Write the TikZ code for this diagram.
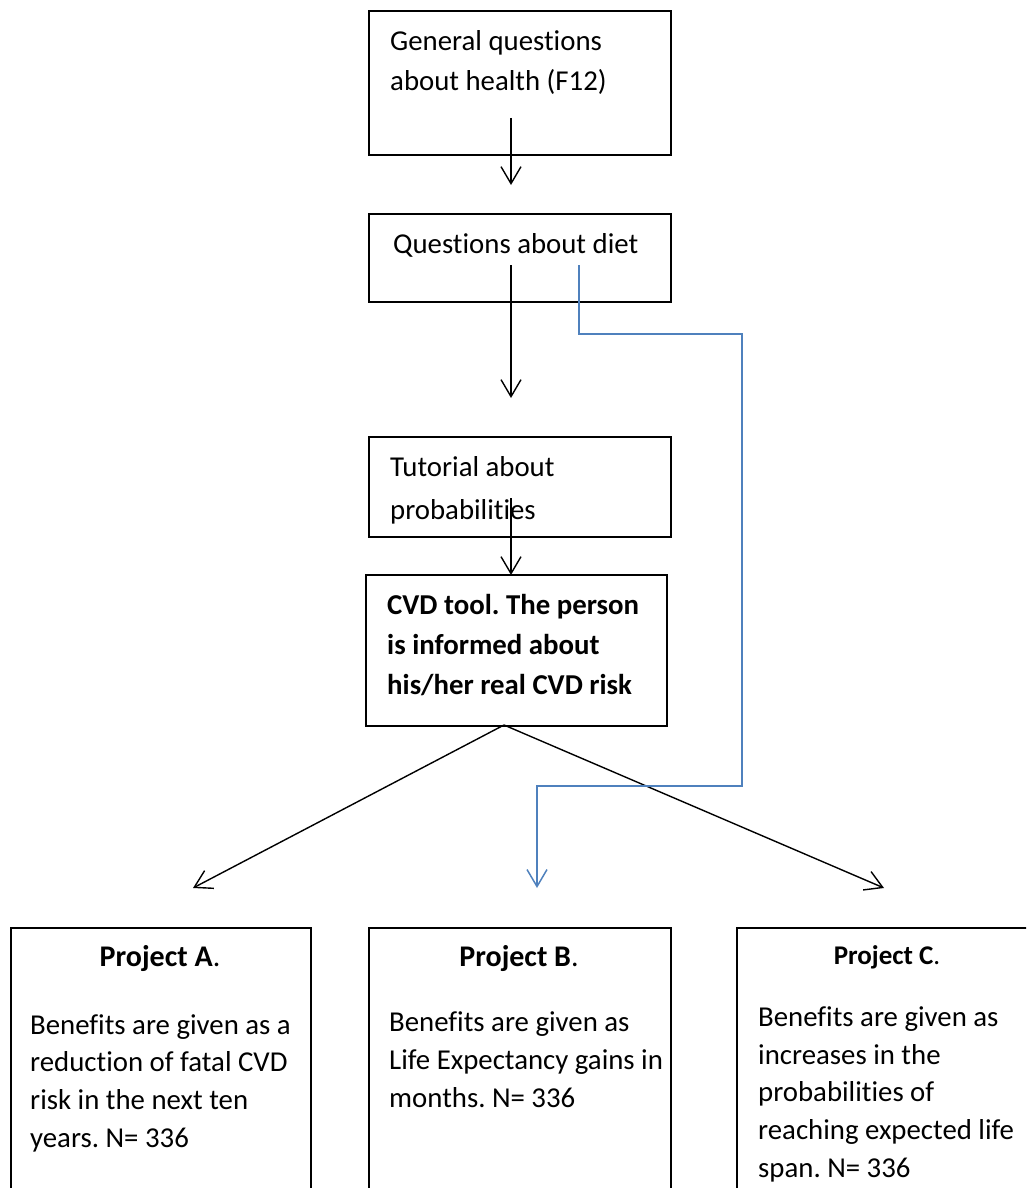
\documentclass[tikz,border=0pt]{standalone}
\usepackage{fontspec}
\setmainfont{Carlito}[Ligatures=NoCommon]
\usetikzlibrary{arrows.meta}
\definecolor{lineBlue}{RGB}{79,129,189}
\frenchspacing

\begin{document}
\begin{tikzpicture}[x=1pt,y=-1pt,%%
  boxStyle/.style={draw,line width=1.6pt,inner sep=0pt,anchor=north west},%%
  bodyStyle/.style={inner sep=0pt,anchor=base west,align=left,font=\fontsize{28.8}{40.5}\selectfont},%%
  boldStyle/.style={bodyStyle,font=\fontsize{28.8}{40}\selectfont\bfseries},%%
  lowerStyle/.style={bodyStyle,font=\fontsize{28.8}{37.6}\selectfont},%%
  titleStyle/.style={inner sep=0pt,anchor=base,font=\fontsize{30}{34}\selectfont},%%
  arrowStyle/.style={-{Straight Barb[length=17pt,width=20pt]},line width=1.4pt},%%
  blueStyle/.style={arrowStyle,draw=lineBlue,line width=1.5pt}%%
]
%%
\path[use as bounding box] (0,0) rectangle (1026,1188);
\clip (0,0) rectangle (1026,1188);
%%
%% Upper column of boxes (multi-line texts sit on their last baseline).
\node[boxStyle,minimum width=302pt,minimum height=144pt] (general) at (368,10) {};
\node[bodyStyle] (generalText) at (390,91) {General questions\\about health (F12)};
\node[boxStyle,minimum width=302pt,minimum height=88pt] (diet) at (368,213) {};
\node[bodyStyle] (dietText) at (393,253) {Questions about diet};
\node[boxStyle,minimum width=302pt,minimum height=100pt] (tutorial) at (368,436) {};
\node[bodyStyle,font=\fontsize{28.8}{43}\selectfont] (tutorialText) at (390,519) {Tutorial about\\probabilities};
\node[boxStyle,minimum width=301pt,minimum height=151pt] (cvd) at (365,574) {};
\node[boldStyle] (cvdText) at (387,694) {CVD tool. The person\\is informed about\\his/her real CVD risk};
%%
%% The three projects.
\node[boxStyle,minimum width=300pt,minimum height=320pt] (projA) at (10,927) {};
\node[boxStyle,minimum width=302pt,minimum height=320pt] (projB) at (368,927) {};
\node[boxStyle,minimum width=302pt,minimum height=320pt] (projC) at (736,927) {};
\node[titleStyle] (projATitle) at (160,966) {\textbf{Project A}.};
\node[titleStyle] (projBTitle) at (519,966) {\textbf{Project B}.};
\node[titleStyle,font=\fontsize{27}{30}\selectfont] (projCTitle) at (887,964) {\textbf{Project C}.};
\node[lowerStyle] (projAText) at (30,1147) {Benefits are given as a\\reduction of fatal CVD\\risk in the next ten\\years. N= 336};
\node[lowerStyle] (projBText) at (389,1107) {Benefits are given as\\Life Expectancy gains in\\months. N= 336};
\node[lowerStyle] (projCText) at (758,1177) {Benefits are given as\\increases in the\\probabilities of\\reaching expected life\\span. N= 336};
%%
%% Arrow ends.
\coordinate (generalOut) at (511,118);
\coordinate (dietIn) at (511,185);
\coordinate (dietOut) at (511,265);
\coordinate (tutorialIn) at (511,398);
\coordinate (tutorialOut) at (511,498);
\coordinate (cvdIn) at (511,575);
\coordinate (cvdApex) at (504,725);
\coordinate (projAIn) at (193,888);
\coordinate (projCIn) at (884,888);
\coordinate (blueStart) at (579,265);
\coordinate (blueCorner) at (742,334);
\coordinate (blueLow) at (742,786);
\coordinate (projBIn) at (537,888);
%%
%% Black arrows.
\draw[arrowStyle] (generalOut) -- (dietIn);
\draw[arrowStyle] (dietOut) -- (tutorialIn);
\draw[arrowStyle] (tutorialOut) -- (cvdIn);
\draw[arrowStyle] (cvdApex) -- (projAIn);
\draw[arrowStyle] (cvdApex) -- (projCIn);
%% Blue route from the diet box.
\draw[blueStyle] (blueStart) |- (blueCorner) -- (blueLow) -| (projBIn);
\end{tikzpicture}
\end{document}
